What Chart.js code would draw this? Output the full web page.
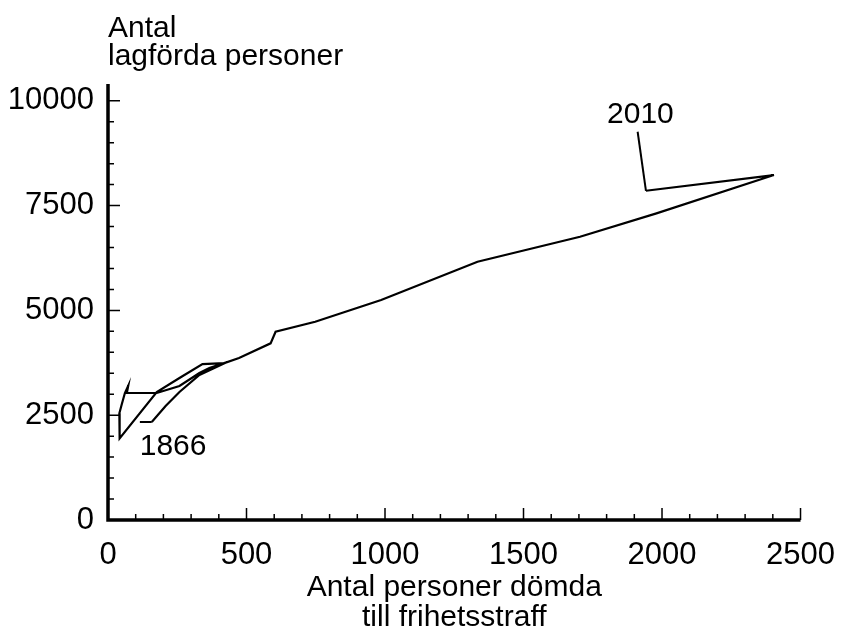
<!DOCTYPE html>
<html>
<head>
<meta charset="utf-8">
<script src="https://cdn.jsdelivr.net/npm/chart.js@4/dist/chart.umd.min.js"></script>
<style>
    body { margin: 0; background: #fff; }
    #wrap { width: 844px; height: 630px; }
</style>
</head>
<body>
<div id="wrap"><canvas id="chart"></canvas></div>
<script>
// x: antal personer dömda till frihetsstraff, y: antal lagförda personer (1866 -> 2010)
const domdaFrihetsstraff = [158, 208, 258, 330, 430, 366, 330, 258, 176, 115, 68, 73, 61, 49, 41, 43, 41, 176,
    258, 341, 420, 473, 587, 605, 748, 986, 1334, 1704, 1980, 2404, 1942];
const lagfordaPersoner = [2337, 2719, 3053, 3458, 3768, 3625, 3506, 3196, 3029, 3029, 3029, 3203, 3029, 2743, 2545, 2385, 1948, 3053,
    3387, 3720, 3744, 3864, 4214, 4491, 4729, 5247, 6160, 6757, 7315, 8228, 7853];

const xTicks = [0, 500, 1000, 1500, 2000, 2500];
const yTicks = [0, 2500, 5000, 7500, 10000];

// year labels with leader lines (positions in data units)
const yearLabels = ["1866", "2010"];
const yearPoint = [0, domdaFrihetsstraff.length - 1];
const labelX = [235, 1922];
const labelY = [1550, 9468];
const leaderX = [115, 1912];
const leaderY = [2337, 9261];

const FONT = "'Liberation Sans', Arial, sans-serif";

const points = domdaFrihetsstraff.map(function(x, i) {
    return { x: x, y: lagfordaPersoner[i] };
});

const axesPlugin = {
    id: "axes",
    afterDraw(chart) {
        const ctx = chart.ctx;
        const xs = chart.scales.x;
        const ys = chart.scales.y;
        const left = xs.getPixelForValue(0);
        const bottom = ys.getPixelForValue(0);

        ctx.save();
        ctx.strokeStyle = "#000";
        ctx.fillStyle = "#000";

        // tick marks, pointing inwards
        ctx.lineWidth = 1.5;
        ctx.beginPath();
        for (let v = 0; v <= yTicks[yTicks.length - 1]; v += 500) {
            const y = ys.getPixelForValue(v);
            const len = yTicks.includes(v) ? 12 : 6;
            ctx.moveTo(left, y);
            ctx.lineTo(left + len, y);
        }
        for (let v = 0; v <= xTicks[xTicks.length - 1]; v += 100) {
            const x = xs.getPixelForValue(v);
            const len = xTicks.includes(v) ? 12 : 6;
            ctx.moveTo(x, bottom);
            ctx.lineTo(x, bottom - len);
        }
        ctx.stroke();

        // axis lines
        ctx.lineWidth = 3.5;
        ctx.beginPath();
        ctx.moveTo(left, chart.chartArea.top);
        ctx.lineTo(left, bottom);
        ctx.lineTo(xs.getPixelForValue(xTicks[xTicks.length - 1]), bottom);
        ctx.stroke();

        // leader lines and year labels
        ctx.lineWidth = 2;
        ctx.font = "30px " + FONT;
        ctx.textAlign = "center";
        ctx.textBaseline = "alphabetic";
        for (let i = 0; i < yearLabels.length; ++i) {
            const p = points[yearPoint[i]];
            ctx.beginPath();
            ctx.moveTo(xs.getPixelForValue(leaderX[i]), ys.getPixelForValue(leaderY[i]));
            ctx.lineTo(xs.getPixelForValue(p.x), ys.getPixelForValue(p.y));
            ctx.stroke();
            ctx.fillText(yearLabels[i], xs.getPixelForValue(labelX[i]), ys.getPixelForValue(labelY[i]));
        }

        // axis titles
        ctx.textAlign = "left";
        ctx.fillText("Antal", left, 37);
        ctx.fillText("lagförda personer", left, 65);
        ctx.textAlign = "center";
        const mid = (chart.chartArea.left + chart.chartArea.right) / 2;
        ctx.fillText("Antal personer dömda", mid, 596);
        ctx.fillText("till frihetsstraff", mid, 626);
        ctx.restore();
    }
};

new Chart(document.getElementById("chart"), {
    type: "scatter",
    data: {
        datasets: [{
            data: points,
            showLine: true,
            borderColor: "#000",
            borderWidth: 2.2,
            pointRadius: 0,
            tension: 0
        }]
    },
    options: {
        responsive: true,
        maintainAspectRatio: false,
        animation: false,
        layout: { padding: { top: 84, right: 39, left: 0, bottom: 0 } },
        plugins: { legend: { display: false }, tooltip: { enabled: false } },
        scales: {
            x: {
                type: "linear",
                min: 0,
                max: 2500,
                grid: { display: false },
                border: { display: false },
                afterBuildTicks: function(scale) {
                    scale.ticks = xTicks.map(function(v) { return { value: v }; });
                },
                afterFit: function(scale) { scale.height = 110; },
                ticks: {
                    color: "#000", padding: 9, maxRotation: 0, autoSkip: false,
                    font: { family: FONT, size: 31 },
                    callback: function(v) { return String(v); }
                }
            },
            y: {
                type: "linear",
                min: 0,
                max: 10400,
                grid: { display: false },
                border: { display: false },
                afterBuildTicks: function(scale) {
                    scale.ticks = yTicks.map(function(v) { return { value: v }; });
                },
                afterFit: function(scale) { scale.width = 108; },
                ticks: {
                    color: "#000", padding: 6,
                    font: { family: FONT, size: 31 },
                    callback: function(v) { return String(v); }
                }
            }
        }
    },
    plugins: [axesPlugin]
});
</script>
</body>
</html>
